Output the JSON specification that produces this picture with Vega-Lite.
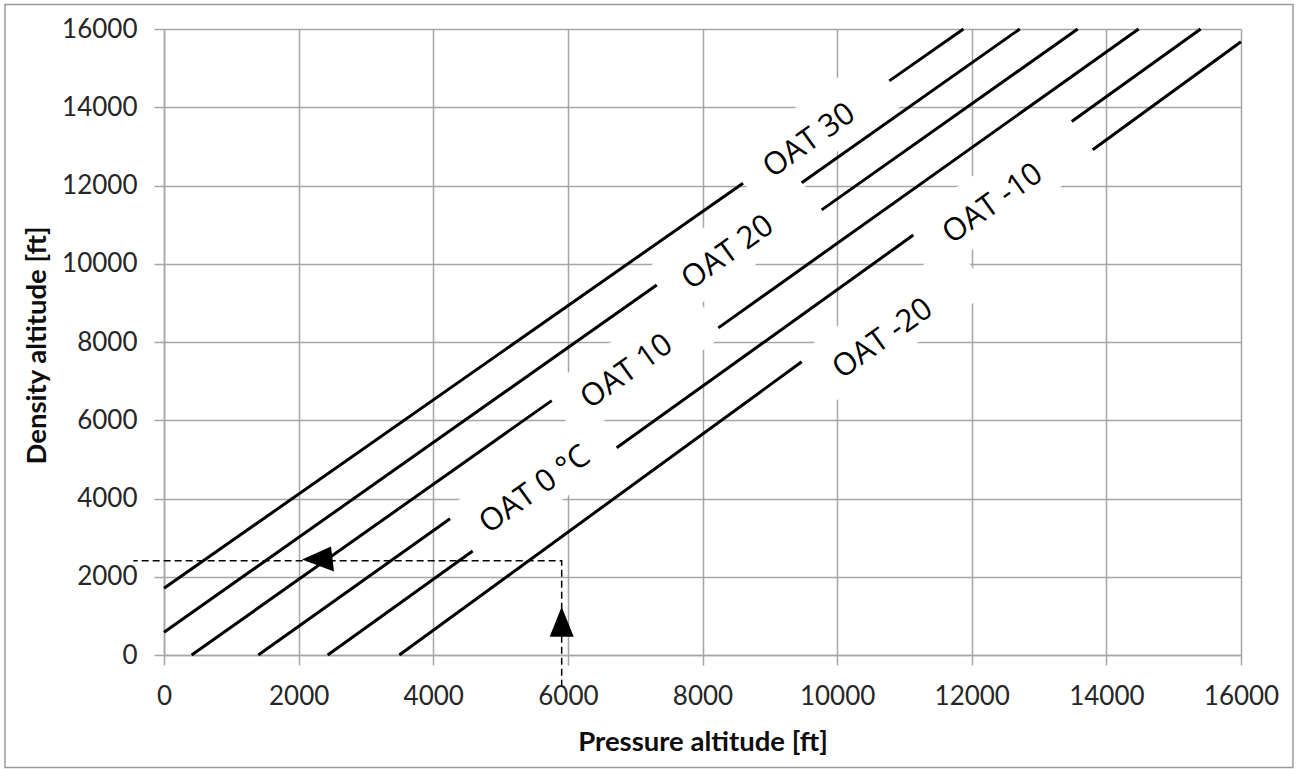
{
  "$schema": "https://vega.github.io/schema/vega-lite/v6.json",
  "width": 1077,
  "height": 626,
  "autosize": {"type": "none"},
  "padding": {"left": 164, "top": 29, "right": 57, "bottom": 114},
  "background": "white",
  "config": {"view": {"stroke": null}},
  "datasets": {
    "curves": [
      {"oat": 30, "seg": "L1a", "pa": 0, "da": 1705},
      {"oat": 30, "seg": "L1a", "pa": 8602, "da": 12058},
      {"oat": 30, "seg": "L1b", "pa": 10775, "da": 14674},
      {"oat": 30, "seg": "L1b", "pa": 11877, "da": 16000},
      {"oat": 20, "seg": "L2a", "pa": 0, "da": 580},
      {"oat": 20, "seg": "L2a", "pa": 7320, "da": 9458},
      {"oat": 20, "seg": "L2b", "pa": 9474, "da": 12070},
      {"oat": 20, "seg": "L2b", "pa": 12714, "da": 16000},
      {"oat": 10, "seg": "L3a", "pa": 411, "da": 0},
      {"oat": 10, "seg": "L3a", "pa": 5760, "da": 6502},
      {"oat": 10, "seg": "L3b", "pa": 9771, "da": 11377},
      {"oat": 10, "seg": "L3b", "pa": 13574, "da": 16000},
      {"oat": 0, "seg": "L4a", "pa": 1401, "da": 0},
      {"oat": 0, "seg": "L4a", "pa": 4249, "da": 3484},
      {"oat": 0, "seg": "L4b", "pa": 8235, "da": 8361},
      {"oat": 0, "seg": "L4b", "pa": 14479, "da": 16000},
      {"oat": -10, "seg": "L5a", "pa": 2432, "da": 0},
      {"oat": -10, "seg": "L5a", "pa": 4586, "da": 2657},
      {"oat": -10, "seg": "L5b", "pa": 6725, "da": 5296},
      {"oat": -10, "seg": "L5b", "pa": 11132, "da": 10733},
      {"oat": -10, "seg": "L5c", "pa": 13485, "da": 13636},
      {"oat": -10, "seg": "L5c", "pa": 15401, "da": 16000},
      {"oat": -20, "seg": "L6a", "pa": 3496, "da": 0},
      {"oat": -20, "seg": "L6a", "pa": 9474, "da": 7494},
      {"oat": -20, "seg": "L6b", "pa": 13797, "da": 12913},
      {"oat": -20, "seg": "L6b", "pa": 16000, "da": 15675}
    ],
    "boxes": [
      {"label": "OAT 30", "kind": "short", "pa": 9682, "da": 13416},
      {"label": "OAT 20", "kind": "short", "pa": 8492, "da": 10558},
      {"label": "OAT 10", "kind": "short", "pa": 6978, "da": 7471},
      {"label": "OAT 0 °C", "kind": "short", "pa": 5483, "da": 4376},
      {"label": "OAT -20", "kind": "long", "pa": 10817, "da": 8463},
      {"label": "OAT -10", "kind": "long", "pa": 12451, "da": 11842}
    ],
    "labels": [
      {"label": "OAT 30", "pa": 9588, "da": 13142},
      {"label": "OAT 20", "pa": 8379, "da": 10275},
      {"label": "OAT 10", "pa": 6878, "da": 7233},
      {"label": "OAT 0 °C", "pa": 5512, "da": 4217},
      {"label": "OAT -10", "pa": 12316, "da": 11527},
      {"label": "OAT -20", "pa": 10681, "da": 8077}
    ],
    "guide": [
      {"step": 1, "pa": 5908, "da": -810},
      {"step": 2, "pa": 5908, "da": 2410},
      {"step": 3, "pa": -456, "da": 2410}
    ],
    "arrows": [
      {"kind": "up", "pa": 5908, "da": 851},
      {"kind": "left", "pa": 2288, "da": 2441}
    ],
    "frame": [
      {"pa": -2362, "pa2": 16772, "da": 16626, "da2": -2875}
    ]
  },
  "layer": [
    {
      "data": {"name": "frame"},
      "mark": {"type": "rect", "fill": null, "stroke": "#9a9a9a", "strokeWidth": 1.5},
      "encoding": {
        "x": {"field": "pa", "type": "quantitative", "scale": {"domain": [0, 16000], "nice": false, "zero": false},
          "axis": {
            "values": [0, 2000, 4000, 6000, 8000, 10000, 12000, 14000, 16000],
            "format": "d",
            "title": "Pressure altitude [ft]",
            "grid": true, "gridColor": "#a6a6a6", "gridWidth": 1.5,
            "domainColor": "#a6a6a6", "domainWidth": 1.5,
            "tickColor": "#a6a6a6", "tickWidth": 1.5, "tickSize": 10,
            "labelFont": "Lato", "labelFontSize": 26, "labelColor": "#262626", "labelPadding": 18,
            "labelFlush": false, "labelOverlap": false,
            "titleFont": "Lato", "titleFontSize": 27.5, "titleFontWeight": "bold", "titleColor": "#0d0d0d",
            "titleY": 87, "titleBaseline": "middle"
          }},
        "x2": {"field": "pa2"},
        "y": {"field": "da", "type": "quantitative", "scale": {"domain": [0, 16000], "nice": false, "zero": false},
          "axis": {
            "values": [0, 2000, 4000, 6000, 8000, 10000, 12000, 14000, 16000],
            "format": "d",
            "title": "Density altitude [ft]",
            "grid": true, "gridColor": "#a6a6a6", "gridWidth": 1.5,
            "domainColor": "#a6a6a6", "domainWidth": 1.5,
            "tickColor": "#a6a6a6", "tickWidth": 1.5, "tickSize": 10,
            "labelFont": "Lato", "labelFontSize": 26, "labelColor": "#262626", "labelPadding": 17,
            "labelOverlap": false, "labelFlush": false,
            "titleFont": "Lato", "titleFontSize": 27.5, "titleFontWeight": "bold", "titleColor": "#0d0d0d",
            "titleX": -127, "titleY": 316, "titleBaseline": "middle", "titleAngle": 270
          }},
        "y2": {"field": "da2"}
      }
    },
    {
      "data": {"name": "boxes"},
      "mark": {"type": "point", "filled": true, "fill": "white", "stroke": null, "opacity": 1, "size": 4, "angle": 324.5},
      "encoding": {
        "x": {"field": "pa", "type": "quantitative"},
        "y": {"field": "da", "type": "quantitative"},
        "shape": {"field": "kind", "type": "nominal", "legend": null,
          "scale": {"domain": ["short", "long", "up", "left"], "range": ["M-89,-30L89,-30L89,30L-89,30Z", "M-98,-30L98,-30L98,30L-98,30Z", "M0,-15L12,15L-12,15Z", "M-16,0L13,-13L16,12Z"]}}
      }
    },
    {
      "data": {"name": "curves"},
      "mark": {"type": "line", "color": "black", "strokeWidth": 3, "strokeCap": "butt"},
      "encoding": {
        "x": {"field": "pa", "type": "quantitative"},
        "y": {"field": "da", "type": "quantitative"},
        "detail": {"field": "seg", "type": "nominal"},
        "order": {"field": "pa", "type": "quantitative"}
      }
    },
    {
      "data": {"name": "guide"},
      "mark": {"type": "line", "color": "black", "strokeWidth": 1.5, "strokeDash": [7, 4], "strokeCap": "butt"},
      "encoding": {
        "x": {"field": "pa", "type": "quantitative"},
        "y": {"field": "da", "type": "quantitative"},
        "order": {"field": "step", "type": "quantitative"}
      }
    },
    {
      "data": {"name": "arrows"},
      "mark": {"type": "point", "filled": true, "color": "black", "opacity": 1, "size": 4},
      "encoding": {
        "x": {"field": "pa", "type": "quantitative"},
        "y": {"field": "da", "type": "quantitative"},
        "shape": {"field": "kind", "type": "nominal", "legend": null,
          "scale": {"domain": ["short", "long", "up", "left"], "range": ["M-89,-30L89,-30L89,30L-89,30Z", "M-98,-30L98,-30L98,30L-98,30Z", "M0,-15L12,15L-12,15Z", "M-16,0L13,-13L16,12Z"]}}
      }
    },
    {
      "data": {"name": "labels"},
      "mark": {"type": "text", "font": "Open Sans", "fontSize": 31, "color": "black", "angle": 324.5, "align": "center", "baseline": "middle"},
      "encoding": {
        "x": {"field": "pa", "type": "quantitative"},
        "y": {"field": "da", "type": "quantitative"},
        "text": {"field": "label", "type": "nominal"}
      }
    }
  ]
}
